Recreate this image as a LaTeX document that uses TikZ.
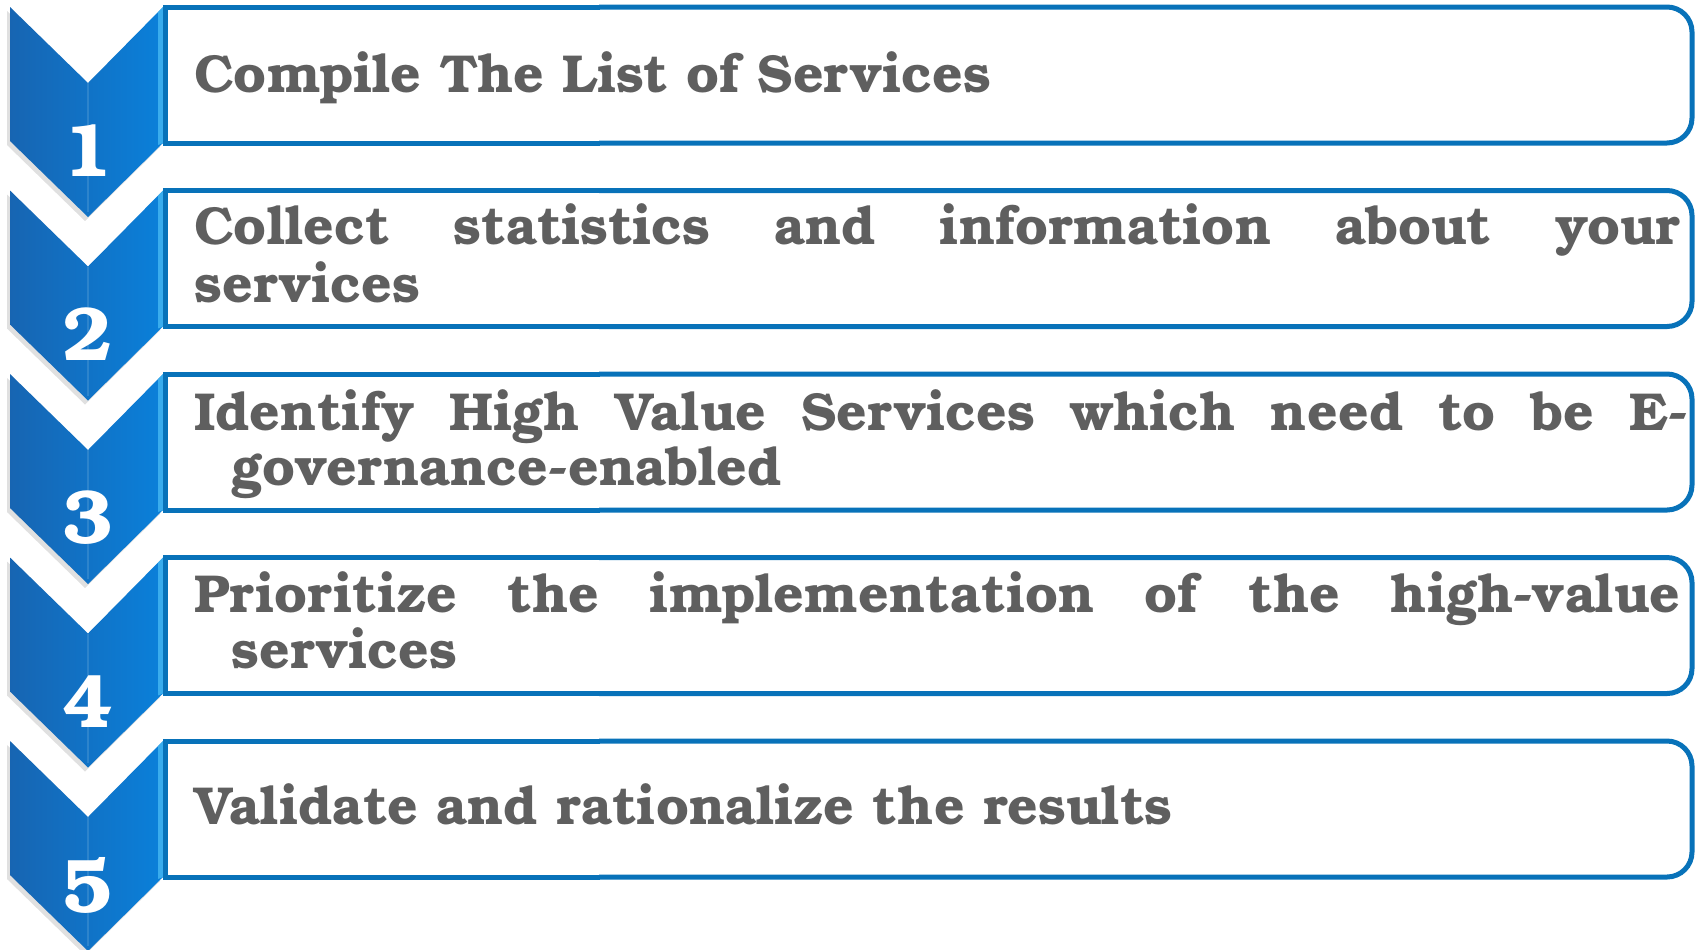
\documentclass[tikz,border=0pt]{standalone}
\usepackage{fontspec}
\setmainfont{TeX Gyre Bonum}
\definecolor{boxblue}{HTML}{0872B9}
\definecolor{chevL}{HTML}{1765B2}
\definecolor{chevR}{HTML}{0A80DA}
\definecolor{chevHi}{HTML}{45B8F2}
\definecolor{txtgray}{HTML}{5F5F5F}
\tikzset{
  txt/.style={anchor=base west, inner sep=0pt, text=txtgray, font=\fontsize{26.7}{30}\selectfont\bfseries},
  numtxt/.style={inner sep=0pt, text=white, font=\fontsize{38}{40}\selectfont\bfseries},
  boxline/.style={draw=boxblue, line width=2.5pt},
}
\begin{document}
\begin{tikzpicture}[x=0.5pt,y=-0.5pt]
\path[use as bounding box, fill=white] (0,0) rectangle (1702,949);
\foreach \i in {0,...,4}{
  \pgfmathsetmacro\t{7+183.5*\i}
  \fill[black, opacity=0.12] (7,{\t+4}) -- (85,{\t+80}) -- (160,{\t+4}) -- (160,{\t+140}) -- (85,{\t+214}) -- (7,{\t+138}) -- cycle;
  \shade[left color=chevL, right color=chevR] (10,\t) -- (88,{\t+76}) -- (163,\t) -- (163,{\t+136}) -- (88,{\t+210}) -- (10,{\t+134}) -- cycle;
  \fill[chevHi, opacity=0.8] (158,{\t+5}) -- (163,\t) -- (163,{\t+136}) -- (158,{\t+138}) -- cycle;
  \draw[white, opacity=0.12, line width=1pt] (88,{\t+76}) -- (88,{\t+205});
  \draw[boxline] (600,\t) -- (165,\t) -- (165,{\t+136}) -- (600,{\t+136});
  \draw[boxline, rounded corners=12.5pt] (599,\t) -- (1692,\t) -- (1692,{\t+136}) -- (599,{\t+136});
}
\node[numtxt] (n1) at (88,151) {1};
\node[numtxt] (n2) at (88,334.5) {2};
\node[numtxt] (n3) at (88,518) {3};
\node[numtxt] (n4) at (88,701.5) {4};
\node[numtxt] (n5) at (88,885) {5};

\node[txt] (t1) at (194,92) {Compile The List of Services};
\node[txt] (t2a) at (194,244) {\makebox[743pt][s]{Collect statistics and information about your}};
\node[txt] (t2b) at (194,302) {services};
\node[txt] (t3a) at (194,430) {\makebox[746.5pt][s]{Identify High Value Services which need to be E-}};
\node[txt] (t3b) at (231,485) {governance-enabled};
\node[txt] (t4a) at (194,612) {\makebox[743pt][s]{Prioritize the implementation of the high-value}};
\node[txt] (t4b) at (231,668) {services};
\node[txt] (t5) at (194,824) {Validate and rationalize the results};
\end{tikzpicture}
\end{document}
